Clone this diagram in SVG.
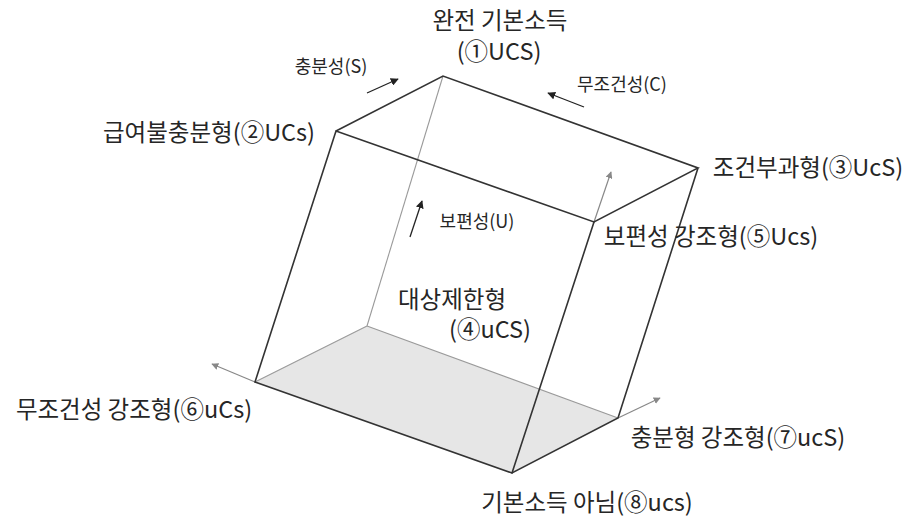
<svg xmlns="http://www.w3.org/2000/svg" width="910" height="519" viewBox="0 0 910 519">
<style>
text{font-family:"Noto Sans CJK KR","Noto Sans",sans-serif;fill:#262626;text-anchor:middle}
.big{font-size:23.5px}
.small{font-size:18px}
.edge{stroke:#333;stroke-width:1.6;fill:none;stroke-linecap:round}
.hidden{stroke:#9a9a9a;stroke-width:1.1;fill:none}
.axis{stroke:#888;stroke-width:1.2;fill:none;marker-end:url(#ga)}
.dir{stroke:#222;stroke-width:1.3;fill:none;marker-end:url(#ba)}
</style>
<defs>
<marker id="ga" viewBox="0 0 10 10" refX="9" refY="5" markerWidth="7" markerHeight="7" markerUnits="userSpaceOnUse" orient="auto"><path d="M0,0 L10,5 L0,10 z" fill="#888"/></marker>
<marker id="ba" viewBox="0 0 10 10" refX="9" refY="5" markerWidth="8" markerHeight="8" markerUnits="userSpaceOnUse" orient="auto"><path d="M0,0 L10,5 L0,10 z" fill="#222"/></marker>
</defs>
<rect width="910" height="519" fill="#fff"/>
<g id="connectors">
<polygon points="367,326 255,382 512,473 618,418" fill="#e6e6e6" stroke="none"/>
<line class="hidden" x1="443" y1="76" x2="367" y2="326"/>
<line class="hidden" x1="367" y1="326" x2="255" y2="382"/>
<line class="hidden" x1="367" y1="326" x2="618" y2="418"/>
<line class="axis" x1="255" y1="382" x2="212" y2="364"/>
<line class="axis" x1="618" y1="418" x2="660" y2="398"/>
<line class="axis" x1="594" y1="222" x2="611" y2="172"/>
<polyline class="edge" points="336,131 443,76 698,168 594,222 336,131 255,382 512,473 618,418 698,168"/>
<line class="edge" x1="594" y1="222" x2="512" y2="473"/>
<line class="dir" x1="367" y1="93" x2="398" y2="79"/>
<line class="dir" x1="584" y1="107" x2="548" y2="93"/>
<line class="dir" x1="410" y1="237" x2="422" y2="201"/>
</g>
<g id="n1"><text class="big" x="500" y="29">완전 기본소득</text><text class="big" x="499" y="60">(①UCS)</text></g>
<g id="lS"><text class="small" x="331" y="73">충분성(S)</text></g>
<g id="lC"><text class="small" x="622" y="91">무조건성(C)</text></g>
<g id="lU"><text class="small" x="477" y="228">보편성(U)</text></g>
<g id="n2"><text class="big" x="209" y="141">급여불충분형(②UCs)</text></g>
<g id="n3"><text class="big" x="808" y="176">조건부과형(③UcS)</text></g>
<g id="n4"><text class="big" x="452" y="308">대상제한형</text><text class="big" x="490" y="338">(④uCS)</text></g>
<g id="n5"><text class="big" x="711" y="245">보편성 강조형(⑤Ucs)</text></g>
<g id="n6"><text class="big" x="134" y="418">무조건성 강조형(⑥uCs)</text></g>
<g id="n7"><text class="big" x="738" y="446">충분형 강조형(⑦ucS)</text></g>
<g id="n8"><text class="big" x="587" y="511">기본소득 아님(⑧ucs)</text></g>
</svg>
